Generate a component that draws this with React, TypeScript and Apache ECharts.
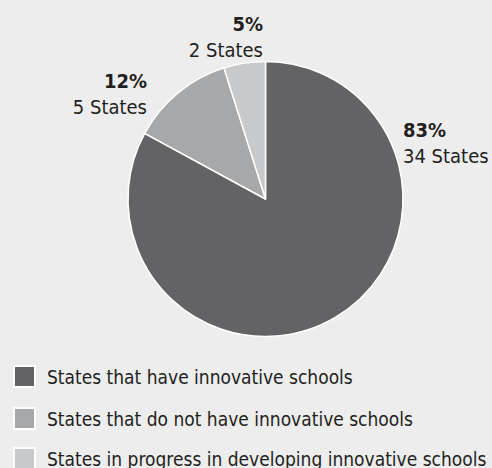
import React, { useEffect, useRef } from "react";
import * as echarts from "echarts";

const categories = [
  "States that have innovative schools",
  "States that do not have innovative schools",
  "States in progress in developing innovative schools",
];
const stateCounts = [34, 5, 2];
const percentLabels = ["83%", "12%", "5%"];
const colors = ["#636365", "#a7a8aa", "#c8c9cb"];

const FONT = "'Liberation Sans Narrow', 'DejaVu Sans Condensed', 'Roboto', sans-serif";
const TEXT = "#231f20";

// label anchor layout (x, y, align) per slice
const labelAnchors = [
  { x: 403, y: 143, align: "left" },
  { x: 147, y: 94, align: "right" },
  { x: 263, y: 37, align: "right" },
];
const legendTops = [365, 407, 447];

export default function App() {
  const ref = useRef<HTMLDivElement>(null);
  useEffect(() => {
    document.body.style.margin = "0";
    document.body.style.background = "#ededed";
    const chart = echarts.init(ref.current!, null, { renderer: "svg" });
    chart.setOption({
      animation: false,
      backgroundColor: "#ededed",
      legend: categories.map((name, i) => ({
        orient: "vertical",
        left: 13,
        top: legendTops[i],
        padding: 0,
        itemWidth: 21,
        itemHeight: 21,
        icon: "rect",
        selectedMode: false,
        textStyle: {
          fontFamily: FONT,
          fontSize: 19,
          lineHeight: 21,
          color: TEXT,
          padding: [0, 0, 0, 7],
        },
        data: [name],
      })),
      series: [
        {
          type: "pie",
          center: [265.5, 199],
          radius: 137.5,
          startAngle: 90,
          clockwise: true,
          silent: true,
          itemStyle: { borderColor: "#ffffff", borderWidth: 1.5 },
          labelLine: { show: false },
          label: {
            show: true,
            position: "outside",
            fontFamily: FONT,
            color: TEXT,
            formatter: (p: any) =>
              `{b|${percentLabels[p.dataIndex]}}\n{n|${p.value} States}`,
            rich: {
              b: { fontFamily: FONT, fontSize: 20, fontWeight: "bold", lineHeight: 26, color: TEXT },
              n: { fontFamily: FONT, fontSize: 20, lineHeight: 26, color: TEXT },
            },
          },
          labelLayout: (params: any) => {
            const a = labelAnchors[params.dataIndex];
            return { x: a.x, y: a.y, align: a.align, verticalAlign: "middle" };
          },
          data: categories.map((name, i) => ({
            name,
            value: stateCounts[i],
            itemStyle: { color: colors[i] },
            label: { align: labelAnchors[i].align },
          })),
        },
      ],
    });
    return () => chart.dispose();
  }, []);
  return <div ref={ref} style={{ width: 492, height: 468 }} />;
}
